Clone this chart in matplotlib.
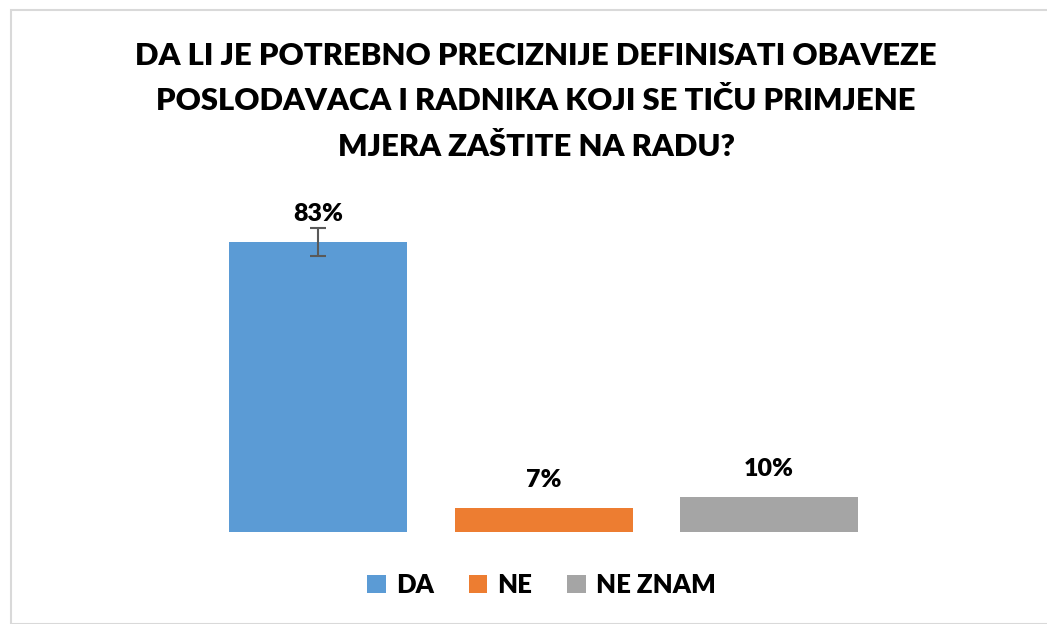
import matplotlib
matplotlib.use("Agg")
import matplotlib.pyplot as plt
from matplotlib.patches import Rectangle

categories = ["DA", "NE", "NE ZNAM"]
values = [83, 7, 10]
labels = ["83%", "7%", "10%"]
errors = [4, 0, 0]
colors = ["#5B9BD5", "#ED7D31", "#A5A5A5"]
title = "DA LI JE POTREBNO PRECIZNIJE DEFINISATI OBAVEZE\nPOSLODAVACA I RADNIKA KOJI SE TIČU PRIMJENE\nMJERA ZAŠTITE NA RADU?"

W, H = 1047, 624
fig = plt.figure(figsize=(W / 100, H / 100), dpi=100)
fig.patch.set_facecolor("white")
fig.patches.append(Rectangle((11 / W, 0), 1.2, 1 - 10 / H, transform=fig.transFigure,
                             fill=False, edgecolor="#D9D9D9", linewidth=1.5))

ax_left, ax_right = 205.25, 882.0
ax_bottom, ax_top = 532.0, 200.0
ax = fig.add_axes([ax_left / W, 1 - ax_bottom / H, (ax_right - ax_left) / W, (ax_bottom - ax_top) / H])
pxpp = 290 / 83.0
ymax = (ax_bottom - ax_top) / pxpp

x = range(len(categories))
bars = ax.bar(x, values, width=0.79, color=colors, label=categories)
ax.errorbar([0], [values[0]], yerr=[errors[0]], fmt="none", ecolor="#595959",
            elinewidth=1.5, capsize=6, capthick=1.5)
ax.set_xlim(-0.5, 2.5)
ax.set_ylim(0, ymax)
ax.axis("off")

fp = dict(family="Lato", weight="heavy", color="black")
for i, (v, lab) in enumerate(zip(values, labels)):
    ax.annotate(lab, (i, v), xytext=(0, 20), textcoords="offset points",
                ha="center", va="center", fontsize=18, **fp)

fig.text(536 / W, 1 - 101.5 / H, title, ha="center", va="center", fontsize=22.3,
         linespacing=1.75, **fp)

leg = fig.legend(handles=bars, labels=categories, loc="center", bbox_to_anchor=(541.5 / W, 1 - 585 / H),
                 ncol=3, frameon=False, handlelength=0.72, handleheight=0.72, handletextpad=0.4,
                 columnspacing=1.35, prop=dict(family="Lato", weight="heavy", size=18.5))

fig.savefig("out.png", dpi=100)
